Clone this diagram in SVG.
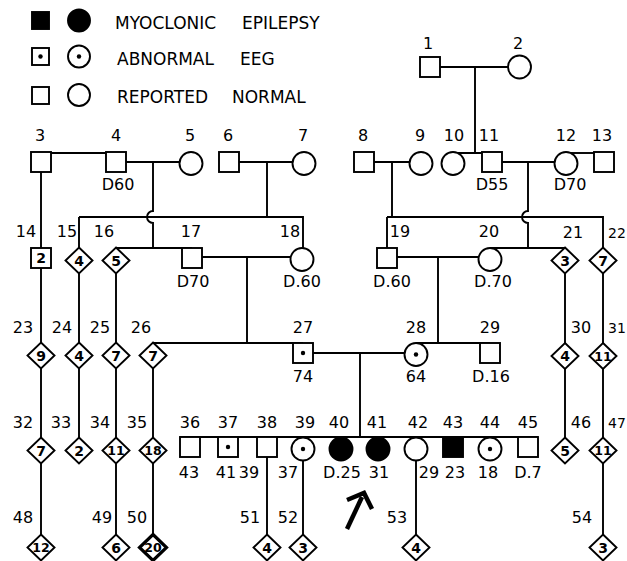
<svg xmlns="http://www.w3.org/2000/svg" xmlns:xlink="http://www.w3.org/1999/xlink" width="627" height="561" viewBox="0 0 627 561">
<style>
.ln{stroke:#000;stroke-width:1.9;fill:none}
.sh{stroke:#000;stroke-width:1.9;fill:#fff}
.af{stroke:#000;stroke-width:1.9;fill:#000}
.dot{fill:#000}
text{font-family:"DejaVu Sans","Liberation Sans",sans-serif;fill:#000}
.lb{font-size:16px;text-anchor:middle}
.ls{font-size:14px;text-anchor:start}
.in{font-size:14px;font-weight:bold;text-anchor:middle;dominant-baseline:central}
.in2{font-size:12.5px;font-weight:bold;text-anchor:middle;dominant-baseline:central}
.lg{font-size:17px}
</style>
<defs>
<path id="dm" d="M0,-13 L13.5,0 L0,13 L-13.5,0 Z"/>
</defs>
<rect width="627" height="561" fill="#fff"/>

<g id="legend">
<rect x="32" y="12" width="17" height="17" class="af"/>
<circle cx="79" cy="20.5" r="11" class="af"/>
<text class="lg" x="115" y="29">MYOCLONIC<tspan x="242">EPILEPSY</tspan></text>
<rect x="32" y="48" width="17" height="17" class="sh"/>
<circle cx="40.5" cy="56.5" r="2.2" class="dot"/>
<circle cx="79" cy="56.5" r="11" class="sh"/>
<circle cx="79" cy="56.5" r="2.2" class="dot"/>
<text class="lg" x="117" y="65">ABNORMAL<tspan x="240">EEG</tspan></text>
<rect x="32" y="87" width="17" height="17" class="sh"/>
<circle cx="79" cy="95" r="11" class="sh"/>
<text class="lg" x="117" y="103">REPORTED<tspan x="232">NORMAL</tspan></text>
</g>

<g id="connectors" class="ln">
<path d="M440,67 H508 M475,67 V153 M458,153 H492"/>
<path d="M41,153 H116 M126,162 H179.5 M153,162 V211 A6,6 0 0,0 153,223 V248"/>
<path d="M239,162 H292.5 M267,162 V217 M79,217 H303 V248 M79,217 V451"/>
<path d="M116,248 H192 M116,248 V547"/>
<path d="M374,162 H409.5 M392,162 V217 M387,217 H603 V547 M387,217 V248"/>
<path d="M502,162 H554.5 M528,162 V211 A6,6 0 0,0 528,223 V248 M490,248 H565 V451"/>
<path d="M570,153 H594"/>
<path d="M41,162 V547"/>
<path d="M202,257 H290.5 M247,257 V343 M153,343 H303 M153,343 V547"/>
<path d="M397,257 H478.5 M438,257 V343 M416,343 H490"/>
<path d="M313,353 H404.5 M360,353 V437 M180,437 H538"/>
<path d="M267,447 V547 M303,449 V547 M416,449 V547"/>
</g>

<g id="n1"><rect x="420" y="57" width="20" height="20" class="sh"/><text class="lb" x="428" y="49">1</text></g>
<g id="n2"><circle cx="519.5" cy="67" r="11.5" class="sh"/><text class="lb" x="518" y="49">2</text></g>

<g id="n3"><rect x="31" y="152" width="20" height="20" class="sh"/><text class="lb" x="40" y="141">3</text></g>
<g id="n4"><rect x="106" y="152" width="20" height="20" class="sh"/><text class="lb" x="116" y="141">4</text><text class="lb" x="118" y="190">D60</text></g>
<g id="n5"><circle cx="191" cy="163.5" r="11.5" class="sh"/><text class="lb" x="190" y="141">5</text></g>
<g id="n6"><rect x="219" y="152" width="20" height="20" class="sh"/><text class="lb" x="228" y="141">6</text></g>
<g id="n7"><circle cx="304" cy="163.5" r="11.5" class="sh"/><text class="lb" x="303" y="141">7</text></g>
<g id="n8"><rect x="354" y="152" width="20" height="20" class="sh"/><text class="lb" x="363" y="141">8</text></g>
<g id="n9"><circle cx="421" cy="163.5" r="11.5" class="sh"/><text class="lb" x="420" y="141">9</text></g>
<g id="n10"><circle cx="453" cy="163.5" r="11.5" class="sh"/><text class="lb" x="454" y="141">10</text></g>
<g id="n11"><rect x="482" y="152" width="20" height="20" class="sh"/><text class="lb" x="489" y="141">11</text><text class="lb" x="492" y="190">D55</text></g>
<g id="n12"><circle cx="566" cy="163.5" r="11.5" class="sh"/><text class="lb" x="566" y="141">12</text><text class="lb" x="570" y="190">D70</text></g>
<g id="n13"><rect x="594" y="152" width="20" height="20" class="sh"/><text class="lb" x="602" y="141">13</text></g>

<g id="n14"><rect x="31" y="248" width="20" height="20" class="sh"/><text class="in" x="41" y="258">2</text><text class="lb" x="26" y="237">14</text></g>
<g id="n15"><use xlink:href="#dm" x="79" y="260.5" class="sh"/><text class="in" x="79" y="260.5">4</text><text class="lb" x="67" y="237">15</text></g>
<g id="n16"><use xlink:href="#dm" x="116" y="260.5" class="sh"/><text class="in" x="116" y="260.5">5</text><text class="lb" x="104" y="237">16</text></g>
<g id="n17"><rect x="182" y="248" width="20" height="20" class="sh"/><text class="lb" x="191" y="237">17</text><text class="lb" x="193" y="287">D70</text></g>
<g id="n18"><circle cx="302" cy="259.5" r="11.5" class="sh"/><text class="lb" x="290" y="237">18</text><text class="lb" x="302" y="287">D.60</text></g>
<g id="n19"><rect x="377" y="248" width="20" height="20" class="sh"/><text class="lb" x="400" y="237">19</text><text class="lb" x="392" y="287">D.60</text></g>
<g id="n20"><circle cx="490" cy="259.5" r="11.5" class="sh"/><text class="lb" x="489" y="237">20</text><text class="lb" x="493" y="287">D.70</text></g>
<g id="n21"><use xlink:href="#dm" x="565" y="260.5" class="sh"/><text class="in" x="565" y="260.5">3</text><text class="lb" x="573" y="238">21</text></g>
<g id="n22"><use xlink:href="#dm" x="603" y="260.5" class="sh"/><text class="in" x="603" y="260.5">7</text><text class="ls" x="608" y="238">22</text></g>

<g id="n23"><use xlink:href="#dm" x="41" y="355.5" class="sh"/><text class="in" x="41" y="355.5">9</text><text class="lb" x="23" y="333">23</text></g>
<g id="n24"><use xlink:href="#dm" x="79" y="355.5" class="sh"/><text class="in" x="79" y="355.5">4</text><text class="lb" x="62" y="333">24</text></g>
<g id="n25"><use xlink:href="#dm" x="116" y="355.5" class="sh"/><text class="in" x="116" y="355.5">7</text><text class="lb" x="100" y="333">25</text></g>
<g id="n26"><use xlink:href="#dm" x="153" y="355.5" class="sh"/><text class="in" x="153" y="355.5">7</text><text class="lb" x="141" y="333">26</text></g>
<g id="n27"><rect x="293" y="343" width="20" height="20" class="sh"/><circle cx="303" cy="353" r="2.2" class="dot"/><text class="lb" x="303" y="333">27</text><text class="lb" x="303" y="382">74</text></g>
<g id="n28"><circle cx="416" cy="354.5" r="11.5" class="sh"/><circle cx="416" cy="354.5" r="2.2" class="dot"/><text class="lb" x="416" y="333">28</text><text class="lb" x="416" y="382">64</text></g>
<g id="n29"><rect x="480" y="343" width="20" height="20" class="sh"/><text class="lb" x="490" y="333">29</text><text class="lb" x="491" y="382">D.16</text></g>
<g id="n30"><use xlink:href="#dm" x="565" y="356" class="sh"/><text class="in" x="565" y="356">4</text><text class="lb" x="581" y="333">30</text></g>
<g id="n31"><use xlink:href="#dm" x="603" y="356" class="sh"/><text class="in2" x="603" y="356">11</text><text class="ls" x="608" y="333">31</text></g>

<g id="n32"><use xlink:href="#dm" x="41" y="450.5" class="sh"/><text class="in" x="41" y="450.5">7</text><text class="lb" x="23" y="428">32</text></g>
<g id="n33"><use xlink:href="#dm" x="79" y="450.5" class="sh"/><text class="in" x="79" y="450.5">2</text><text class="lb" x="61" y="428">33</text></g>
<g id="n34"><use xlink:href="#dm" x="116" y="450.5" class="sh"/><text class="in2" x="116" y="450.5">11</text><text class="lb" x="100" y="428">34</text></g>
<g id="n35"><use xlink:href="#dm" x="153" y="450.5" class="sh"/><text class="in2" x="153" y="450.5">18</text><text class="lb" x="137" y="428">35</text></g>
<g id="n36"><rect x="180" y="437" width="20" height="20" class="sh"/><text class="lb" x="190" y="428">36</text><text class="lb" x="189" y="478">43</text></g>
<g id="n37"><rect x="218" y="437" width="20" height="20" class="sh"/><circle cx="228" cy="447" r="2.2" class="dot"/><text class="lb" x="228" y="428">37</text><text class="lb" x="226" y="478">41</text></g>
<g id="n38"><rect x="257" y="437" width="20" height="20" class="sh"/><text class="lb" x="267" y="428">38</text><text class="lb" x="249" y="478">39</text></g>
<g id="n39"><circle cx="303" cy="449" r="11.5" class="sh"/><circle cx="303" cy="449" r="2.2" class="dot"/><text class="lb" x="305" y="428">39</text><text class="lb" x="288" y="478">37</text></g>
<g id="n40"><circle cx="341" cy="449" r="11.5" class="af"/><text class="lb" x="339" y="428">40</text><text class="lb" x="342" y="478">D.25</text></g>
<g id="n41"><circle cx="378" cy="449" r="11.5" class="af"/><text class="lb" x="377" y="428">41</text><text class="lb" x="379" y="478">31</text></g>
<g id="n42"><circle cx="416" cy="449" r="11.5" class="sh"/><text class="lb" x="418" y="428">42</text><text class="lb" x="429" y="478">29</text></g>
<g id="n43"><rect x="443" y="437" width="20" height="20" class="af"/><text class="lb" x="453" y="428">43</text><text class="lb" x="455" y="478">23</text></g>
<g id="n44"><circle cx="490" cy="449" r="11.5" class="sh"/><circle cx="490" cy="449" r="2.2" class="dot"/><text class="lb" x="490" y="428">44</text><text class="lb" x="488" y="478">18</text></g>
<g id="n45"><rect x="518" y="437" width="20" height="20" class="sh"/><text class="lb" x="528" y="428">45</text><text class="lb" x="528" y="478">D.7</text></g>
<g id="n46"><use xlink:href="#dm" x="565" y="450.5" class="sh"/><text class="in" x="565" y="450.5">5</text><text class="lb" x="581" y="428">46</text></g>
<g id="n47"><use xlink:href="#dm" x="603" y="450.5" class="sh"/><text class="in2" x="603" y="450.5">11</text><text class="ls" x="608" y="428">47</text></g>

<g id="n48"><use xlink:href="#dm" x="41" y="547.5" class="sh"/><text class="in2" x="41" y="547.5">12</text><text class="lb" x="23" y="523">48</text></g>
<g id="n49"><use xlink:href="#dm" x="116" y="547.5" class="sh"/><text class="in" x="116" y="547.5">6</text><text class="lb" x="102" y="523">49</text></g>
<g id="n50"><use xlink:href="#dm" x="153" y="547.5" class="sh" style="stroke-width:3.2"/><text class="in2" x="153" y="547.5">20</text><text class="lb" x="137" y="523">50</text></g>
<g id="n51"><use xlink:href="#dm" x="267" y="547.5" class="sh"/><text class="in" x="267" y="547.5">4</text><text class="lb" x="250" y="523">51</text></g>
<g id="n52"><use xlink:href="#dm" x="303" y="547.5" class="sh"/><text class="in" x="303" y="547.5">3</text><text class="lb" x="288" y="523">52</text></g>
<g id="n53"><use xlink:href="#dm" x="416" y="547.5" class="sh"/><text class="in" x="416" y="547.5">4</text><text class="lb" x="397" y="523">53</text></g>
<g id="n54"><use xlink:href="#dm" x="603" y="547.5" class="sh"/><text class="in" x="603" y="547.5">3</text><text class="lb" x="582" y="523">54</text></g>

<g id="proband-arrow" fill="none" stroke="#000" stroke-width="4.5">
<path d="M347,529 L362,497"/>
<path d="M347,500 L364,493 L372,509" stroke-linejoin="miter"/>
</g>
</svg>
